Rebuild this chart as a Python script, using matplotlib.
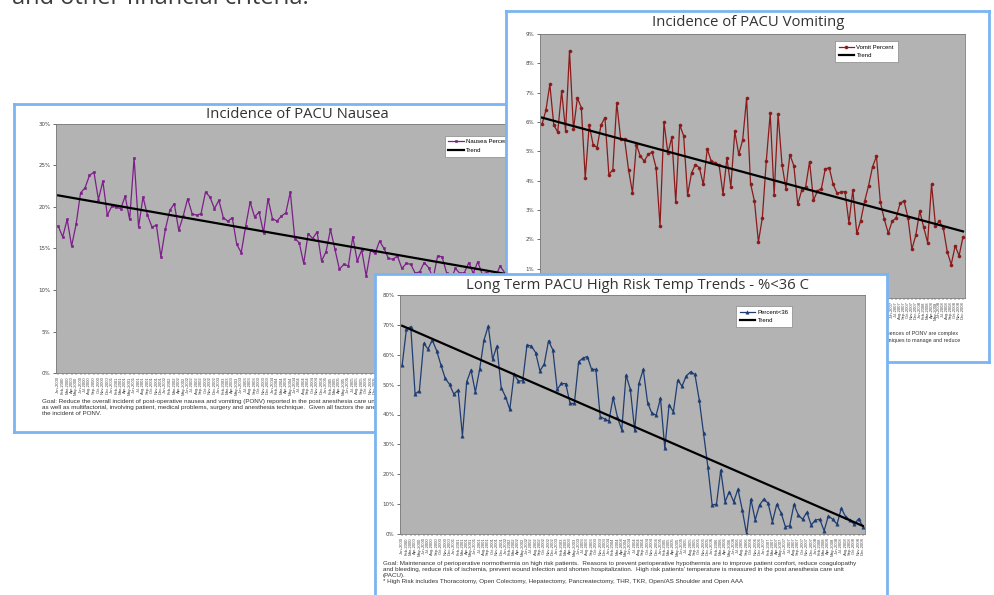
import matplotlib as mpl
mpl.use('Agg')
import matplotlib.pyplot as plt
from matplotlib.ticker import FuncFormatter, MultipleLocator

W, H = 994, 595

# category labels (monthly, illegible in the source but present)
months = ['Jan', 'Feb', 'Mar', 'Apr', 'May', 'Jun', 'Jul', 'Aug', 'Sep', 'Oct', 'Nov', 'Dec']
years = ['2000', '2001', '2002', '2003', '2004', '2005', '2006', '2007', '2008']
month_labels = [m + '-' + y for y in years for m in months]

nausea_pct = [
    17.7, 16.4, 18.5, 15.3, 17.9, 21.7, 22.3, 23.8, 24.2, 20.9,
    23.1, 19.0, 20.1, 20.0, 19.8, 21.3, 18.5, 25.9, 17.6, 21.2,
    19.0, 17.6, 17.8, 14.0, 17.3, 19.6, 20.4, 17.2, 18.9, 21.0,
    19.2, 19.0, 19.2, 21.8, 21.2, 19.8, 20.8, 18.7, 18.3, 18.7,
    15.5, 14.5, 17.7, 20.6, 18.8, 19.4, 16.9, 21.0, 18.6, 18.3,
    18.9, 19.3, 21.8, 16.2, 15.7, 13.2, 16.8, 16.2, 17.0, 13.5,
    14.6, 17.3, 14.9, 12.5, 13.1, 12.9, 16.4, 13.5, 14.8, 11.7,
    14.8, 14.4, 15.9, 15.0, 13.8, 13.7, 14.1, 12.6, 13.2, 13.1,
    12.0, 12.2, 13.3, 12.7, 11.4, 14.1, 14.0, 12.1, 11.3, 12.6,
    12.0, 12.1, 13.3, 12.0, 13.4, 11.9, 12.1, 11.4, 11.6, 12.9,
    12.1, 11.5, 12.4, 11.0, 12.2, 11.7, 10.9, 11.8,
]
nausea_trend = [21.4, 11.3]

vomit_pct = [
    5.92, 6.40, 7.28, 5.90, 5.66, 7.05, 5.70, 8.43, 5.75, 6.82,
    6.49, 4.09, 5.89, 5.23, 5.13, 5.89, 6.15, 4.21, 4.37, 6.65,
    5.43, 5.41, 4.37, 3.59, 5.23, 4.83, 4.67, 4.90, 4.97, 4.44,
    2.46, 5.99, 4.94, 5.48, 3.26, 5.90, 5.53, 3.51, 4.26, 4.55,
    4.44, 3.87, 5.08, 4.67, 4.61, 4.54, 3.55, 4.77, 3.79, 5.68,
    4.90, 5.38, 6.81, 3.90, 3.30, 1.91, 2.73, 4.66, 6.29, 3.51,
    6.27, 4.55, 3.73, 4.89, 4.51, 3.19, 3.67, 3.78, 4.65, 3.33,
    3.65, 3.73, 4.40, 4.44, 3.87, 3.57, 3.61, 3.63, 2.57, 3.68,
    2.20, 2.64, 3.30, 3.83, 4.47, 4.83, 3.26, 2.68, 2.21, 2.62,
    2.73, 3.23, 3.31, 2.74, 1.66, 2.14, 2.97, 2.41, 1.89, 3.88,
    2.47, 2.62, 2.37, 1.57, 1.14, 1.78, 1.44, 2.09,
]
vomit_trend = [6.15, 2.27]

temp_pct = [
    56.6, 68.6, 69.4, 46.9, 47.9, 63.8, 61.9, 64.9, 61.4, 56.6,
    52.1, 50.1, 46.8, 48.2, 32.9, 51.0, 54.9, 47.5, 55.1, 64.9,
    69.6, 58.5, 62.9, 49.0, 46.0, 41.7, 53.4, 51.2, 51.3, 63.3,
    62.9, 60.7, 54.6, 56.9, 64.7, 61.6, 48.4, 50.4, 50.3, 43.7,
    43.7, 57.7, 58.9, 59.4, 55.1, 55.1, 39.3, 38.5, 37.8, 45.7,
    39.1, 34.8, 53.2, 48.4, 34.8, 50.4, 55.1, 44.0, 40.4, 39.8,
    45.4, 28.7, 43.2, 40.9, 51.5, 49.5, 52.9, 54.3, 53.4, 44.9,
    33.7, 22.5, 9.7, 10.0, 21.4, 10.8, 14.2, 10.8, 15.0, 8.0,
    0.0, 11.6, 4.7, 9.7, 11.7, 10.3, 4.1, 9.9, 7.1, 2.5,
    2.7, 9.9, 6.4, 4.9, 7.3, 3.0, 4.7, 4.9, 1.1, 6.1,
    4.9, 3.3, 8.6, 5.8, 4.7, 3.2, 5.1, 2.5,
]
temp_trend = [69.7, 2.7]

nausea_caption = (
    "Goal: Reduce the overall incident of post-operative nausea and vomiting (PONV) reported in the post anesthesia care unit (PACU).  The consequences of PONV are complex\n"
    "as well as multifactorial, involving patient, medical problems, surgery and anesthesia technique.  Given all factors the anesthesia team uses techniques to manage and reduce\n"
    "the incident of PONV."
)
temp_caption = (
    "Goal: Maintenance of perioperative normothermia on high risk patients.  Reasons to prevent perioperative hypothermia are to improve patient comfort, reduce coagulopathy\n"
    "and bleeding, reduce risk of ischemia, prevent wound infection and shorten hospitalization.  High risk patients' temperature is measured in the post anesthesia care unit\n"
    "(PACU).\n"
    "* High Risk includes Thoracotomy, Open Colectomy, Hepatectomy, Pancreatectomy, THR, TKR, Open/AS Shoulder and Open AAA"
)

BORDER = '#7ab4f2'
PLOT_BG = '#b3b3b3'
SMALL_FONT = 'Liberation Sans'
TITLE_FONT = 'Open Sans'


def px_rect(x0, y0, x1, y1):
    # pixel box (top-left origin) -> figure fraction rect
    return [x0 / W, 1 - y1 / H, (x1 - x0) / W, (y1 - y0) / H]


def add_panel(fig, box, z, title, title_xy, caption, caption_xy, cap_size, cap_spacing):
    ax = fig.add_axes(px_rect(*box), zorder=z)
    ax.set_facecolor('white')
    ax.set_xticks([])
    ax.set_yticks([])
    for s in ax.spines.values():
        s.set_color(BORDER)
        s.set_linewidth(2.0)
    x0, y0, x1, y1 = box

    def to_ax(x, y):
        return (x - x0) / (x1 - x0), 1 - (y - y0) / (y1 - y0)

    ax.text(*to_ax(*title_xy), title, transform=ax.transAxes, ha='center', va='center',
            fontsize=10.7, color='#333333', family=TITLE_FONT)
    ax.text(*to_ax(*caption_xy), caption, transform=ax.transAxes, ha='left', va='top',
            fontsize=cap_size, color='#333333', family=SMALL_FONT, linespacing=cap_spacing,
            clip_on=True)
    return ax


def add_plot(fig, box, z, values, trend, color, marker, ms, label, ymax, ystep, leg_xy):
    ax = fig.add_axes(px_rect(*box), zorder=z)
    ax.set_facecolor(PLOT_BG)
    n = len(values)
    ax.plot(range(n), values, color=color, marker=marker, ms=ms, lw=0.9,
            markeredgewidth=0.4, label=label)
    ax.plot([0, n - 1], trend, color='black', lw=1.6, label='Trend')
    ax.set_xlim(-0.5, n - 0.5)
    ax.set_ylim(0, ymax)
    ax.yaxis.set_major_locator(MultipleLocator(ystep))
    ax.yaxis.set_major_formatter(FuncFormatter(lambda v, p: f"{v:.0f}%"))
    ax.set_xticks(range(n))
    ax.set_xticklabels(month_labels[:n], rotation=90, fontsize=3.0, color='#444444',
                       family=SMALL_FONT)
    ax.tick_params(axis='y', labelsize=4.0, labelcolor='#444444', length=2, width=0.4, pad=2)
    ax.tick_params(axis='x', length=1.5, width=0.3, pad=1)
    for s in ax.spines.values():
        s.set_color('#7a7a7a')
        s.set_linewidth(0.6)
    leg = ax.legend(loc='upper left', bbox_to_anchor=leg_xy, numpoints=1,
                    fancybox=False, framealpha=1, edgecolor='#888888', handlelength=2.6,
                    handletextpad=0.4, borderpad=0.6, labelspacing=0.6,
                    prop={'family': SMALL_FONT, 'size': 4.3})
    leg.get_frame().set_linewidth(0.5)
    return ax


fig = plt.figure(figsize=(W / 100, H / 100), dpi=100)
fig.patch.set_facecolor('white')

fig.text(12 / W, 1 - 4 / H, "and other financial criteria.", ha='left', va='baseline',
         fontsize=17, color='#3c3c3c', family=TITLE_FONT)

# nausea (back)
add_panel(fig, (14, 104, 600, 432), 1, "Incidence of PACU Nausea", (297, 115),
          nausea_caption, (42, 399), 4.5, 1.3)
add_plot(fig, (56, 124, 538, 373), 2, nausea_pct, nausea_trend, '#7d1f8a', 's', 2.0,
         'Nausea Percent', 30, 5, (0.80, 0.965))

# vomiting (middle)
add_panel(fig, (506, 11, 989, 362), 3, "Incidence of PACU Vomiting", (748, 23),
          nausea_caption, (542, 331), 3.9, 1.45)
add_plot(fig, (540, 34, 965, 298), 4, vomit_pct, vomit_trend, '#8b1a1a', 'o', 2.2,
         'Vomit Percent', 9, 1, (0.687, 0.985))

# temperature (front)
add_panel(fig, (375, 274, 887, 605), 5, "Long Term PACU High Risk Temp Trends - %<36 C", (637, 286),
          temp_caption, (383, 561), 4.5, 1.23)
add_plot(fig, (400, 295, 865, 534), 6, temp_pct, temp_trend, '#1f3d73', '^', 2.4,
         'Percent<36', 80, 10, (0.716, 0.967))

fig.savefig('out.png', dpi=100, facecolor='white')
